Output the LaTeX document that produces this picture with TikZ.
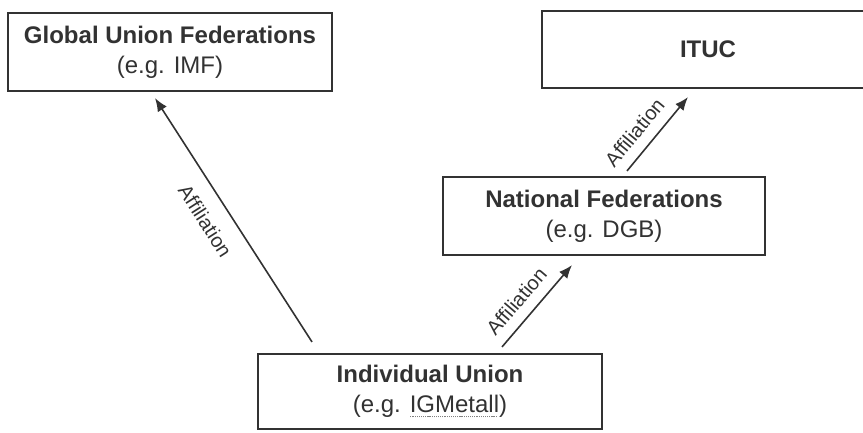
\documentclass[tikz,border=0pt]{standalone}
\usepackage{fontspec}
\setmainfont{Liberation Sans}
\usetikzlibrary{arrows.meta}
\definecolor{inkgray}{RGB}{50,50,50}
\newsavebox\ulbox
\newcommand\dotul[1]{\sbox\ulbox{#1}\leavevmode\rlap{\raisebox{-3.5pt}[0pt][0pt]{\hbox to\wd\ulbox{\color{gray}\leaders\hbox to 1.6pt{\hss\rule{0.9pt}{0.9pt}\hss}\hfill}}}\usebox\ulbox}

\begin{document}
\begin{tikzpicture}[
x=0.75pt,y=-0.75pt,
fed/.style={draw=inkgray,line width=1.6pt,align=center,inner sep=0pt,text=inkgray,font=\fontsize{18}{22.5}\selectfont,minimum height=58.5pt},
lbl/.style={sloped,font=\fontsize{15}{17}\selectfont,text=inkgray,inner sep=2pt},
arr/.style={-{Latex[length=10pt,width=8pt]},line width=1.2pt,draw=inkgray}
]
\useasboundingbox (0,0) rectangle (863,432);
\node[fed,minimum width=243pt] (global) at (170,52) {\textbf{Global Union Federations}\\(e.g. IMF)};
\node[fed,minimum width=249pt,minimum height=57.75pt] (ituc) at (708,49.5) {\textbf{ITUC}};
\node[fed,minimum width=241.5pt] (natfed) at (604,216) {\textbf{National Federations}\\(e.g. DGB)};
\node[fed,minimum width=258pt,minimum height=56.25pt] (indiv) at (430,391.5) {\textbf{Individual Union}\\(e.g. \dotul{IGMetall})};
\draw[arr] ([xshift=-88.5pt,yshift=8.25pt]indiv.north) -- node[lbl,pos=0.55,below=10pt] {Affiliation} ([xshift=-11.25pt,yshift=-4.5pt]global.south);
\draw[arr] ([xshift=54pt,yshift=4.5pt]indiv.north) -- node[lbl,pos=0.41,above=6pt] {Affiliation} ([xshift=-24pt,yshift=-6.75pt]natfed.south);
\draw[arr] ([xshift=17.25pt,yshift=3.75pt]natfed.north) -- node[lbl,pos=0.36,above=6pt] {Affiliation} ([xshift=-15pt,yshift=-6pt]ituc.south);
\end{tikzpicture}
\end{document}
